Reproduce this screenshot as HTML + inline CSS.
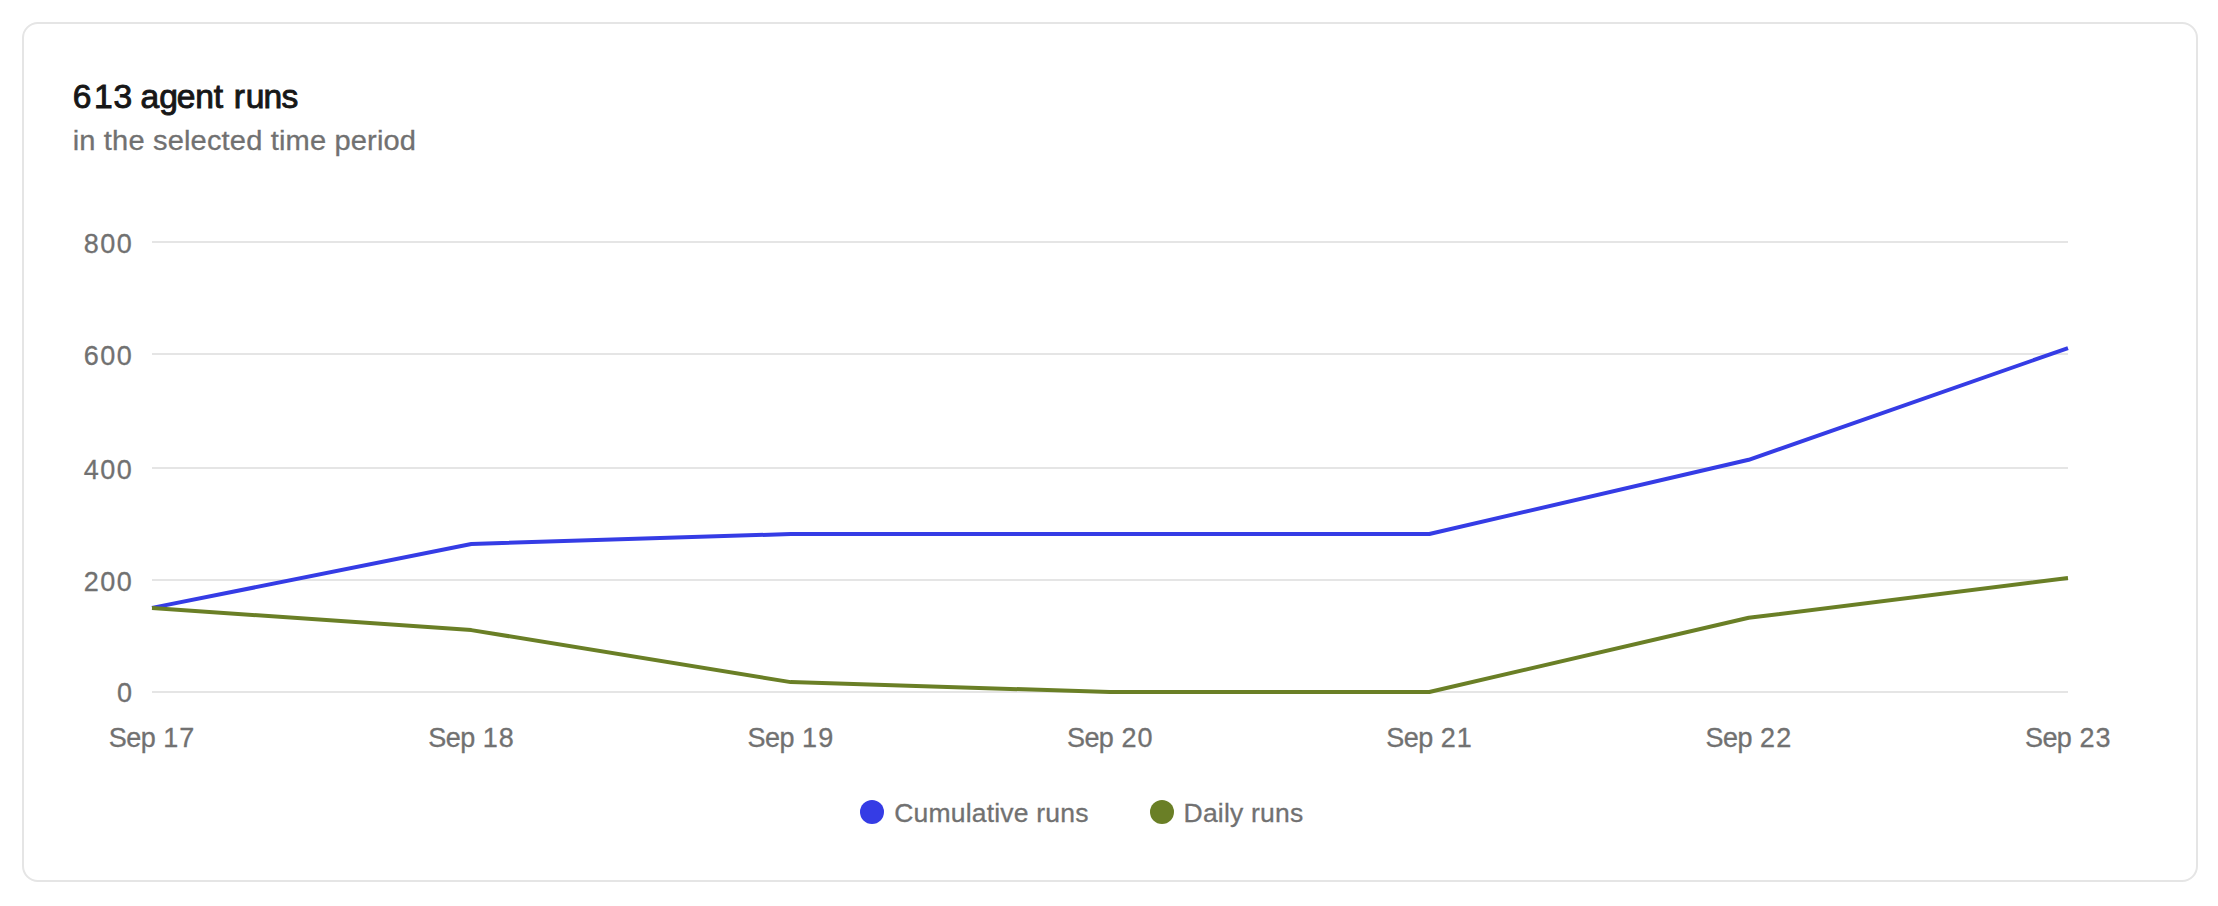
<!DOCTYPE html>
<html lang="en">
<head>
<meta charset="utf-8">
<title>613 agent runs</title>
<style>
  html, body { margin: 0; padding: 0; background: #ffffff; }
  body { width: 2218px; height: 906px; position: relative; overflow: hidden;
         font-family: "Liberation Sans", sans-serif; }
  .card { position: absolute; left: 22px; top: 22px; width: 2172px; height: 856px;
          border: 2px solid #e5e5e5; border-radius: 16px; background: #ffffff; }
  svg.chart { position: absolute; left: 0; top: 0; width: 2218px; height: 906px; }
  svg.chart text { font-family: "Liberation Sans", sans-serif; font-size: 27px;
                   fill: #717171; stroke: #717171; stroke-width: 0.3px; }
  svg.chart text.title { font-size: 32.5px; fill: #171717; stroke: #171717; stroke-width: 0.9px; }
  svg.chart text.subtitle { font-size: 28px; letter-spacing: 0.14px; }
  svg.chart text.small { font-size: 26.5px; letter-spacing: 0.2px; }
  svg.chart .ylab text { letter-spacing: 1.6px; }
</style>
</head>
<body>
<div class="card"></div>

<svg class="chart" width="2218" height="906" viewBox="0 0 2218 906">
  <text class="title" transform="translate(0,108) scale(1.034,1)" x="70.4" dx="0 2.5 0.6 -0.8 0 -0.15 -1.1 -0.15 -0.15 0 1.2 0.8 -0.9 -0.7">613 agent runs</text>
  <text class="subtitle" transform="translate(72.7,150) scale(1.039,1)">in the selected time period</text>

  <g stroke="#e5e5e5" stroke-width="2" shape-rendering="crispEdges">
    <line x1="152" y1="242" x2="2068" y2="242"/>
    <line x1="152" y1="354" x2="2068" y2="354"/>
    <line x1="152" y1="468" x2="2068" y2="468"/>
    <line x1="152" y1="580" x2="2068" y2="580"/>
    <line x1="152" y1="692" x2="2068" y2="692"/>
  </g>
  <g class="ylab" text-anchor="end">
    <text x="133.5" y="252.65">800</text>
    <text x="133.5" y="364.65">600</text>
    <text x="133.5" y="478.65">400</text>
    <text x="133.5" y="590.65">200</text>
    <text x="133.5" y="702.15">0</text>
  </g>
  <g text-anchor="middle">
    <text x="151.6" y="747" dx="0 -0.55 -0.55 0 0 1">Sep 17</text>
    <text x="471" y="747" dx="0 -0.55 -0.55 0 0 1">Sep 18</text>
    <text x="790.4" y="747" dx="0 -0.55 -0.55 0 0 1">Sep 19</text>
    <text x="1109.7" y="747" dx="0 -0.55 -0.55 0 0 1">Sep 20</text>
    <text x="1429" y="747" dx="0 -0.55 -0.55 0 0 1">Sep 21</text>
    <text x="1748.4" y="747" dx="0 -0.55 -0.55 0 0 1">Sep 22</text>
    <text x="2067.7" y="747" dx="0 -0.55 -0.55 0 0 1">Sep 23</text>
  </g>
  <polyline fill="none" stroke="#353ce5" stroke-width="4" stroke-linejoin="round"
    points="152,607.9 471.3,544 790.7,534 1110,534 1429.3,534 1748.7,459.8 2068,348.1"/>
  <polyline fill="none" stroke="#6a7f26" stroke-width="4" stroke-linejoin="round"
    points="152,607.9 471.3,630.1 790.7,682.1 1110,692 1429.3,692 1748.7,617.8 2068,578.1"/>
  <circle cx="872" cy="811.9" r="12" fill="#353ce5"/>
  <text class="small" x="894.2" y="821.8">Cumulative runs</text>
  <circle cx="1162" cy="811.9" r="12" fill="#6a7f26"/>
  <text class="small" x="1183.6" y="821.8">Daily runs</text>
</svg>
</body>
</html>
